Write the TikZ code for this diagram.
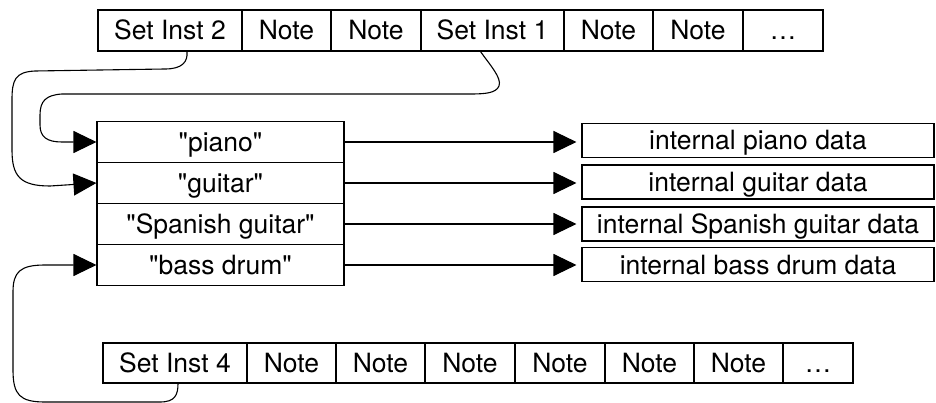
\documentclass[tikz,border=0pt]{standalone}
\usepackage{fontspec}
\setmainfont{TeX Gyre Heros}
\usetikzlibrary{arrows.meta}
\newcommand{\dq}{\textquotedbl}
\newcommand{\dotsx}{\ldots}
\begin{document}
\begin{tikzpicture}[x=1pt,y=-1pt,
  every node/.style={font=\fontsize{26.5}{31}\selectfont, text height=19pt, text depth=0pt},
  cell/.style={draw, line width=1.1pt, rectangle, inner sep=0pt, minimum height=41pt},
  rcell/.style={draw, line width=1.1pt, rectangle, inner sep=0pt, minimum height=34pt, minimum width=352pt},
  link/.style={line width=1.1pt, -{Triangle[length=23pt,width=22pt]}}
]
\useasboundingbox (0,0) rectangle (936,403);
% top row
\node[cell, minimum width=144pt] (t1) at (170,30.5) {Set Inst 2};
\node[cell, minimum width=89pt] (t2) at (286.5,30.5) {Note};
\node[cell, minimum width=90pt] (t3) at (376,30.5) {Note};
\node[cell, minimum width=143pt] (t4) at (492.5,30.5) {Set Inst 1};
\node[cell, minimum width=89pt] (t5) at (608.5,30.5) {Note};
\node[cell, minimum width=90pt] (t6) at (698,30.5) {Note};
\node[cell, minimum width=80pt] (t7) at (783,30.5) {\dotsx};
% left table
\node[cell, minimum width=247pt] (lp) at (220.5,142) {\dq piano\dq};
\node[cell, minimum width=247pt] (lg) at (220.5,183) {\dq guitar\dq};
\node[cell, minimum width=247pt] (ls) at (220.5,224) {\dq Spanish guitar\dq};
\node[cell, minimum width=247pt] (lb) at (220.5,265) {\dq bass drum\dq};
% right boxes
\node[rcell] (rp) at (758,140.5) {internal piano data};
\node[rcell] (rg) at (758,182) {internal guitar data};
\node[rcell] (rs) at (758,224) {internal Spanish guitar data};
\node[rcell] (rb) at (758,264.5) {internal bass drum data};
% bottom row
\node[cell, minimum width=144pt, minimum height=40pt] (b1) at (175,363) {Set Inst 4};
\node[cell, minimum width=89pt, minimum height=40pt] (b2) at (291.5,363) {Note};
\node[cell, minimum width=89pt, minimum height=40pt] (b3) at (380.5,363) {Note};
\node[cell, minimum width=90pt, minimum height=40pt] (b4) at (470,363) {Note};
\node[cell, minimum width=90pt, minimum height=40pt] (b5) at (560,363) {Note};
\node[cell, minimum width=89pt, minimum height=40pt] (b6) at (649.5,363) {Note};
\node[cell, minimum width=89pt, minimum height=40pt] (b7) at (738.5,363) {Note};
\node[cell, minimum width=70pt, minimum height=40pt] (b8) at (818,363) {\dotsx};
% horizontal arrows
\foreach \l/\r in {lp/rp, lg/rg, ls/rs, lb/rb}
  \draw[link, shorten >=5pt] (\l.east) -- (\l.east -| \r.west);
% curved connectors
\coordinate (s2) at ([xshift=17pt]t1.south);
\coordinate (s1) at ([xshift=-12pt]t4.south);
\coordinate (s4) at ([xshift=3pt]b1.south);
\draw[link] (s2) .. controls (188,62) and (182,69) .. (165,69) -- (35,71)
  .. controls (15,72) and (12,80) .. (12,100) -- (12,150)
  .. controls (12,176) and (20,186) .. (50,186) -- (lg.west);
\draw[link] (s1) .. controls (490,65) and (502,78) .. (499,86)
  .. controls (496,93) and (486,94) .. (470,94) -- (62,94)
  .. controls (46,95) and (40,101) .. (40,115) -- (40,125)
  .. controls (40,137) and (47,142) .. (62,142) -- (lp.west);
\draw[link] (s4) .. controls (178,395) and (175,402) .. (160,402) -- (45,402)
  .. controls (20,402) and (13,395) .. (13,370) -- (13,292)
  .. controls (13,272) and (20,265) .. (45,265) -- (lb.west);
\end{tikzpicture}
\end{document}
